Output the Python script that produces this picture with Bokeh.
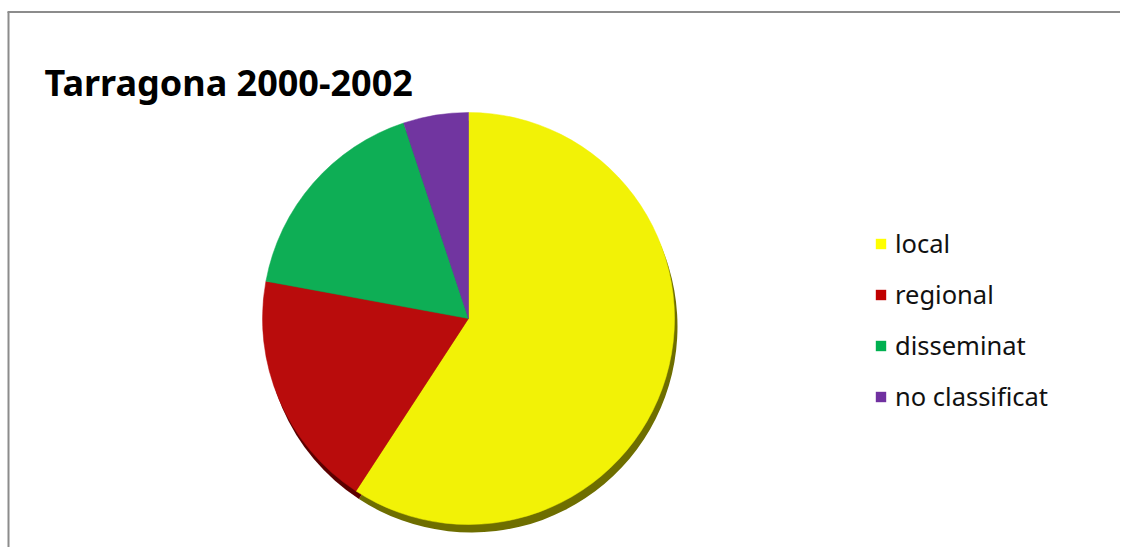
import numpy as np
from bokeh.plotting import figure
from bokeh.models import ColumnDataSource, Legend, LegendItem, Label, Range1d
from bokeh.embed import file_html
from bokeh.resources import INLINE

# ---- data ----
categories = ["local", "regional", "disseminat", "no classificat"]
shares = [59.2, 18.7, 17.0, 5.1]
slice_colors = ["#F2F206", "#B90C0C", "#0EAE55", "#7135A0"]
legend_colors = ["#FFFF00", "#C00000", "#00B050", "#7030A0"]
shadow_colors = ["#6E6E00", "#5C0000", "#0A5A2C", "#3A1A52"]
title_text = "Tarragona 2000-2002"

W, H = 1120, 547
p = figure(width=W, height=H, output_backend="svg", toolbar_location=None,
           x_range=Range1d(0, W), y_range=Range1d(0, H),
           min_border=0, outline_line_color=None)
p.axis.visible = False
p.grid.visible = False
p.background_fill_color = "white"
p.border_fill_color = "white"

# border lines (top and left) of the chart area
top_y = H - 11.5
p.segment(x0=[7, 8], y0=[top_y, 0], x1=[W, 8], y1=[top_y, top_y],
          line_color="#8c8c8c", line_width=2)

# pie angles (clockwise from 12 o'clock)
vals = np.array(shares, dtype=float)
frac = vals / vals.sum()
cum = np.concatenate([[0], np.cumsum(frac)])
start = np.pi / 2 - cum[1:] * 2 * np.pi
end = np.pi / 2 - cum[:-1] * 2 * np.pi

cx, cy, r = 468, H - 318, 206
src = ColumnDataSource(dict(start=start, end=end, color=slice_colors,
                            shadow=shadow_colors, label=categories))

# shadow
p.wedge(x=cx + 3, y=cy - 8, radius=r, start_angle="start", end_angle="end",
        fill_color="shadow", line_color=None, source=src)
# pie
p.wedge(x=cx, y=cy, radius=r, start_angle="start", end_angle="end",
        fill_color="color", line_color="color", line_width=0.5, source=src)

# legend swatches
leg_src = ColumnDataSource(dict(l=[np.nan] * 4, r=[np.nan] * 4, b=[np.nan] * 4, t=[np.nan] * 4,
                                color=legend_colors, label=categories))
sq = p.quad(left="l", right="r", bottom="b", top="t", fill_color="color",
            line_color=None, source=leg_src)

items = [LegendItem(label=c, renderers=[sq], index=i) for i, c in enumerate(categories)]
legend = Legend(items=items, location=(874, 133), orientation="vertical",
                glyph_width=13, glyph_height=13, label_height=36, spacing=15,
                label_standoff=8, padding=0, margin=0,
                label_text_font="Noto Sans", label_text_font_size="25.5px",
                label_text_color="#111111",
                border_line_color=None, background_fill_alpha=0)
p.add_layout(legend)

p.add_layout(Label(x=44, y=465, text=title_text, text_font="Noto Sans",
                   text_font_size="36px", text_font_style="bold",
                   text_color="#000000", text_baseline="alphabetic"))

open("out.html", "w").write(file_html(p, INLINE))
